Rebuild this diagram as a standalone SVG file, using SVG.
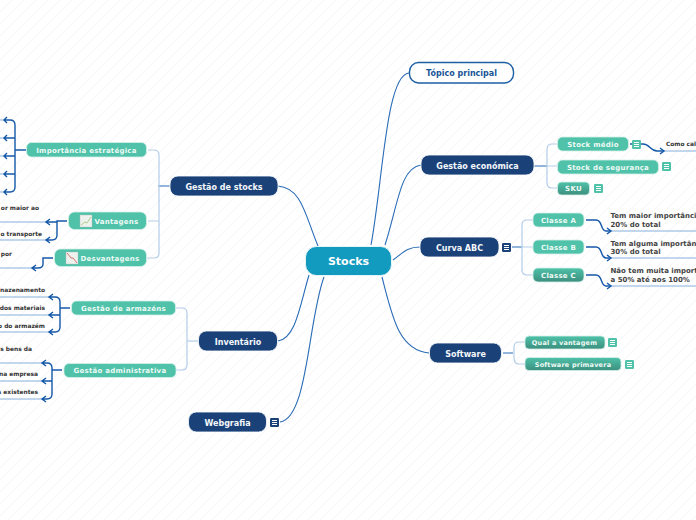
<svg xmlns="http://www.w3.org/2000/svg" width="696" height="520" viewBox="0 0 696 520">
<style>
text{font-family:"DejaVu Sans",sans-serif;font-weight:700}
.c{text-anchor:middle}
.root{font-size:11px;fill:#fff}
.m{font-size:8px;fill:#f4f7fb}
.s{font-size:7px;fill:#eefaf6;letter-spacing:.25px}
.s2{font-size:6.5px;fill:#eefaf6;letter-spacing:.2px}
.t{font-size:5.9px;fill:#333}
.d{font-size:7px;fill:#444}
.n{fill:#1a4279;stroke:#fff;stroke-width:.8}
.g{fill:#4fc2a9;stroke:#d4f0e8;stroke-width:.8}
.g2{fill:url(#gr);stroke:#d4f0e8;stroke-width:.8}
.w{fill:none;stroke:#2a6cb6;stroke-width:1.1}
.b{fill:none;stroke:#b5cde8;stroke-width:1.2}
.bl{fill:none;stroke:#2a6cb6;stroke-width:1}
.u{fill:none;stroke:#86aedd;stroke-width:1}
.k{fill:none;stroke:#1458a8;stroke-width:1.5}
.a{fill:none;stroke:#1458a8;stroke-width:1.4}
.i{stroke:#fff;stroke-width:1}
</style>
<defs>
<pattern id="h" width="12" height="12" patternUnits="userSpaceOnUse"><path d="M0 12L12 0" stroke="#f0f1f4" stroke-width=".7"/></pattern>
<linearGradient id="gr" x1="0" y1="0" x2="0" y2="1"><stop offset="0" stop-color="#4fc2a9"/><stop offset="1" stop-color="#3c8f7f"/></linearGradient>
<g id="ig"><rect x="-4.500" y="-4.500" width="9" height="9" rx="1.200" fill="#4fc2a9"/><path class="i" d="M-2.500 -2H2.500M-2.500 0H2.500M-2.500 2H2.500"/></g>
<g id="in"><rect x="-4.500" y="-4.500" width="9" height="9" rx="1.200" fill="#1a4279"/><path class="i" d="M-2.500 -2H2.500M-2.500 0H2.500M-2.500 2H2.500"/></g>
</defs>
<rect width="696" height="520" fill="#fff"/>
<rect width="696" height="520" fill="url(#h)"/>
<g id="connectors">
<path class="w" d="M371 245C383 180 386 75 409 73"/>
<path class="w" d="M385 245C398 205 400 168 421 165"/>
<path class="w" d="M393 260C402 254 406 247 420 247"/>
<path class="w" d="M382 277C392 315 398 350 429 353"/>
<path class="w" d="M318 246C305 215 302 188 278 186"/>
<path class="w" d="M309 275C300 305 296 338 278 341"/>
<path class="w" d="M324 277C308 320 308 418 280 422"/>
<path class="bl" d="M534 166H547"/><path class="b" d="M557 144H552Q547 144 547 149V183Q547 188 552 188H558M547 166H557"/>
<path class="bl" d="M512 247H522"/><path class="b" d="M533 220H527Q522 220 522 225V270Q522 275 527 275H533M522 247H533"/>
<path class="bl" d="M503 353H513"/><path class="b" d="M525 342H519Q514 342 514 347V358Q514 364 519 364H525"/>
<path class="bl" d="M170 186H158"/><path class="b" d="M148 150H154Q159 150 159 155V253Q159 258 154 258H147M159 221H148"/>
<path class="b" d="M198 341H187"/><path class="b" d="M176 308H182Q187 308 187 313V365Q187 370 182 370H176"/>
<path class="a" d="M630 144H643C650 144 650 151 657 151H664"/><path class="u" d="M663 151H696"/><path class="a" d="M660 148L664 151L660 154"/>
<path class="a" d="M586 220H596C603 220 600 231 606 231H611"/><path class="u" d="M610 231H696"/><path class="a" d="M607 228L611 231L607 234"/>
<path class="a" d="M586 247H596C603 247 600 258 606 258H611"/><path class="u" d="M610 258H696"/><path class="a" d="M607 255L611 258L607 261"/>
<path class="a" d="M586 275H596C603 275 600 286 606 286H611"/><path class="u" d="M610 286H696"/><path class="a" d="M607 283L611 286L607 289"/>
<path class="u" d="M0 120H6M0 138H6M0 156H6M0 174H6M0 192H6"/>
<path class="k" d="M26 150H15"/>
<path class="a" d="M15 125Q15 120 10 120H4M15 125V187Q15 192 10 192H4M15 138H4M15 156H4M15 174H4M7 117L4 120L7 123M7 135L4 138L7 141M7 153L4 156L7 159M7 171L4 174L7 177M7 189L4 192L7 195"/>
<path class="u" d="M0 222H46M0 240H46M0 268H32"/>
<path class="a" d="M67 221H57V235Q57 240 52 240H46M57 222H46M50 219L46 222L50 225M50 237L46 240L50 243"/>
<path class="a" d="M53 258H43V264Q43 268 38 268H32M36 265L32 268L36 271"/>
<path class="u" d="M0 297H49M0 315H49M0 332H49"/>
<path class="k" d="M70 308H60"/>
<path class="a" d="M60 302Q60 297 55 297H49M60 302V327Q60 332 55 332H49M60 315H49M53 294L49 297L53 300M53 312L49 315L53 318M53 329L49 332L53 335"/>
<path class="u" d="M0 363H42M0 381H42M0 399H42"/>
<path class="k" d="M62 370H52"/>
<path class="a" d="M52 368Q52 363 47 363H42M52 368V394Q52 399 47 399H42M52 381H42M46 360L42 363L46 366M46 378L42 381L46 384M46 396L42 399L46 402"/>
</g>
<g id="n-stocks"><rect x="305.500" y="246.500" width="86" height="29" rx="11" fill="#129abf" stroke="#fff" stroke-width=".8"/><text class="root c" x="348.500" y="265">Stocks</text></g>
<g id="n-topico"><rect x="409.500" y="62.500" width="104" height="20.500" rx="9" fill="#fff" stroke="#1d5fa3" stroke-width="1.4"/><text class="c" x="461.500" y="75.800" font-size="8" fill="#1a5596">Tópico principal</text></g>
<g id="n-economica"><rect x="421" y="155" width="113" height="20" rx="8" class="n"/><text class="m c" x="477.500" y="168.500">Gestão económica</text></g>
<g id="n-abc"><rect x="420" y="237" width="79" height="20" rx="8" class="n"/><text class="m c" x="459.500" y="250.500">Curva ABC</text><use href="#in" x="506.500" y="247.500"/></g>
<g id="n-software"><rect x="429.500" y="343" width="72" height="20" rx="8" class="n"/><text class="m c" x="465.500" y="356.500">Software</text></g>
<g id="n-stocks2"><rect x="170" y="176" width="108" height="20" rx="8" class="n"/><text class="m c" x="224" y="189.500">Gestão de stocks</text></g>
<g id="n-inventario"><rect x="198.500" y="331" width="79" height="20" rx="8" class="n"/><text class="m c" x="238" y="344.500">Inventário</text></g>
<g id="n-webgrafia"><rect x="188.500" y="412" width="78" height="20" rx="8" class="n"/><text class="m c" x="227.500" y="425.500">Webgrafia</text><use href="#in" x="274.500" y="422.500"/></g>
<g id="n-medio"><rect x="557.500" y="137" width="71" height="14" rx="5" class="g"/><text class="s c" x="593" y="146.800">Stock médio</text><use href="#ig" x="636.500" y="144.500"/></g>
<g id="n-seguranca"><rect x="557.500" y="160" width="101" height="14" rx="5" class="g"/><text class="s c" x="608" y="169.800">Stock de segurança</text><use href="#ig" x="666.500" y="166.500"/></g>
<g id="n-sku"><rect x="557.500" y="182" width="32" height="13" rx="4" class="g2"/><text class="s c" x="573.500" y="191.300">SKU</text><use href="#ig" x="598.500" y="188.500"/></g>
<g id="n-como"><text class="t" x="666" y="146">Como calcular</text></g>
<g id="n-a"><rect x="533" y="213" width="51" height="14" rx="5" class="g"/><text class="s c" x="558.500" y="222.800">Classe A</text></g>
<g id="n-b"><rect x="533" y="240" width="51" height="14" rx="5" class="g"/><text class="s c" x="558.500" y="249.800">Classe B</text></g>
<g id="n-c"><rect x="533" y="268" width="51" height="14" rx="5" class="g2"/><text class="s c" x="558.500" y="277.800">Classe C</text></g>
<g id="n-ta"><text class="d" x="610.500" y="218">Tem maior importância</text><text class="d" x="610.500" y="227">20% do total</text></g>
<g id="n-tb"><text class="d" x="610.500" y="246">Tem alguma importância</text><text class="d" x="610.500" y="254">30% do total</text></g>
<g id="n-tc"><text class="d" x="610.500" y="273">Não tem muita importância</text><text class="d" x="610.500" y="282">a 50% até aos 100%</text></g>
<g id="n-qual"><rect x="525" y="336" width="80" height="13" rx="4" class="g2"/><text class="s2 c" x="564.500" y="345">Qual a vantagem</text><use href="#ig" x="612.500" y="342.500"/></g>
<g id="n-prim"><rect x="525" y="357.500" width="96" height="13" rx="4" class="g2"/><text class="s2 c" x="573" y="366.500">Software primavera</text><use href="#ig" x="629.500" y="364.500"/></g>
<g id="n-imp"><rect x="26.500" y="142.500" width="120" height="14.500" rx="5" class="g"/><text class="s c" x="86.500" y="152.500">Importância estratégica</text></g>
<g id="n-van"><rect x="68.500" y="212" width="78" height="17.500" rx="6" class="g"/><rect x="80" y="215" width="12" height="12" fill="#eef2ee" stroke="#bbb" stroke-width=".4"/><path d="M81 225L85 222L87 223L91 217" fill="none" stroke="#a6c46c" stroke-width=".8"/><text class="s" x="94.500" y="223.800">Vantagens</text></g>
<g id="n-des"><rect x="54.500" y="249" width="92" height="17.500" rx="6" class="g"/><rect x="66" y="252" width="12" height="12" fill="#eef2ee" stroke="#bbb" stroke-width=".4"/><path d="M67 253L71 258L73 258L77 263" fill="none" stroke="#d0504c" stroke-width=".8"/><text class="s" x="80.500" y="260.800">Desvantagens</text></g>
<g id="n-arm"><rect x="71.500" y="301" width="104" height="14" rx="5" class="g"/><text class="s c" x="123.500" y="310.800">Gestão de armazéns</text></g>
<g id="n-adm"><rect x="64" y="363.500" width="112" height="14" rx="5" class="g"/><text class="s c" x="120" y="373.300">Gestão administrativa</text></g>
<g id="n-left">
<text class="t" x="39" y="210" text-anchor="end">or maior ao</text>
<text class="t" x="42" y="236" text-anchor="end">o transporte</text>
<text class="t" x="12" y="256" text-anchor="end">por</text>
<text class="t" x="45" y="292" text-anchor="end">nazenamento</text>
<text class="t" x="45" y="310" text-anchor="end">dos materiais</text>
<text class="t" x="45" y="328" text-anchor="end">o do armazém</text>
<text class="t" x="32" y="351" text-anchor="end">s bens da</text>
<text class="t" x="38" y="376" text-anchor="end">na empresa</text>
<text class="t" x="38" y="394" text-anchor="end">s existentes</text>
</g>
</svg>
